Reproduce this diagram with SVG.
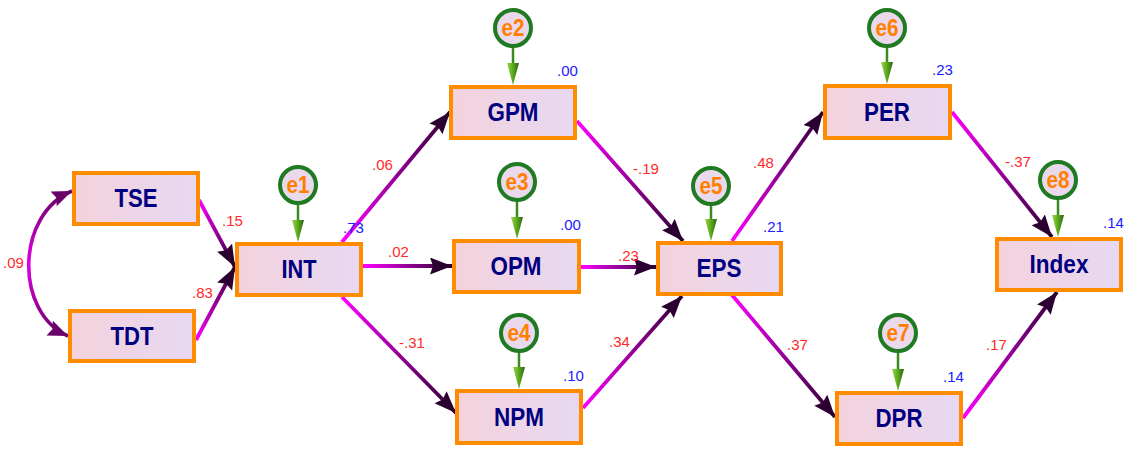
<svg xmlns="http://www.w3.org/2000/svg" width="1126" height="455" viewBox="0 0 1126 455">
<defs>
<style>
.box{fill:url(#boxFill);stroke:#ff8c00;stroke-width:4}
.lbl{font-family:"Liberation Sans",Arial,sans-serif;font-weight:bold;font-size:25px;fill:#000080;text-anchor:middle}
.err{fill:#ead8ec;stroke:#1f7a22;stroke-width:4}
.elbl{font-family:"Liberation Sans",Arial,sans-serif;font-weight:bold;font-size:23px;fill:#ff8000;text-anchor:middle}
.coef{font-family:"Liberation Sans",Arial,sans-serif;font-size:15px;fill:#ff2a2a}
.r2{font-family:"Liberation Sans",Arial,sans-serif;font-size:15px;fill:#2020ff}
.path{fill:none;stroke-width:3.8;marker-end:url(#arr)}
.eline{stroke:#3a8a1c;stroke-width:2.5}
.ehead{fill:url(#greenHead)}
</style>
<linearGradient id="boxFill" x1="0" y1="0" x2="1" y2="0">
<stop offset="0" stop-color="#f4d2dc"/>
<stop offset="1" stop-color="#e7d8f2"/>
</linearGradient>
<linearGradient id="greenHead" x1="0" y1="0" x2="1" y2="0">
<stop offset="0" stop-color="#9ad84a"/>
<stop offset="0.5" stop-color="#5aa81e"/>
<stop offset="1" stop-color="#2a640c"/>
</linearGradient>
<linearGradient id="arcG" gradientUnits="userSpaceOnUse" x1="0" y1="191" x2="0" y2="336">
<stop offset="0" stop-color="#6a006a"/>
<stop offset="0.5" stop-color="#e000e0"/>
<stop offset="1" stop-color="#6a006a"/>
</linearGradient>
<linearGradient id="g1" gradientUnits="userSpaceOnUse" x1="199" y1="200" x2="235" y2="267"><stop offset="0" stop-color="#ff00ff"/><stop offset="1" stop-color="#2a0030"/></linearGradient>
<linearGradient id="g2" gradientUnits="userSpaceOnUse" x1="196" y1="340" x2="235" y2="267"><stop offset="0" stop-color="#ff00ff"/><stop offset="1" stop-color="#2a0030"/></linearGradient>
<linearGradient id="g3" gradientUnits="userSpaceOnUse" x1="342" y1="242" x2="450" y2="112"><stop offset="0" stop-color="#ff00ff"/><stop offset="1" stop-color="#2a0030"/></linearGradient>
<linearGradient id="g4" gradientUnits="userSpaceOnUse" x1="363" y1="266" x2="452" y2="266"><stop offset="0" stop-color="#ff00ff"/><stop offset="1" stop-color="#2a0030"/></linearGradient>
<linearGradient id="g5" gradientUnits="userSpaceOnUse" x1="342" y1="297" x2="456" y2="413"><stop offset="0" stop-color="#ff00ff"/><stop offset="1" stop-color="#2a0030"/></linearGradient>
<linearGradient id="g6" gradientUnits="userSpaceOnUse" x1="577" y1="121" x2="683" y2="241"><stop offset="0" stop-color="#ff00ff"/><stop offset="1" stop-color="#2a0030"/></linearGradient>
<linearGradient id="g7" gradientUnits="userSpaceOnUse" x1="581" y1="267" x2="656" y2="267"><stop offset="0" stop-color="#ff00ff"/><stop offset="1" stop-color="#2a0030"/></linearGradient>
<linearGradient id="g8" gradientUnits="userSpaceOnUse" x1="583" y1="408" x2="682" y2="296"><stop offset="0" stop-color="#ff00ff"/><stop offset="1" stop-color="#2a0030"/></linearGradient>
<linearGradient id="g9" gradientUnits="userSpaceOnUse" x1="732" y1="241" x2="823" y2="112"><stop offset="0" stop-color="#ff00ff"/><stop offset="1" stop-color="#2a0030"/></linearGradient>
<linearGradient id="g10" gradientUnits="userSpaceOnUse" x1="732" y1="295" x2="835" y2="417"><stop offset="0" stop-color="#ff00ff"/><stop offset="1" stop-color="#2a0030"/></linearGradient>
<linearGradient id="g11" gradientUnits="userSpaceOnUse" x1="952" y1="112" x2="1052" y2="237"><stop offset="0" stop-color="#ff00ff"/><stop offset="1" stop-color="#2a0030"/></linearGradient>
<linearGradient id="g12" gradientUnits="userSpaceOnUse" x1="963" y1="418" x2="1057" y2="292"><stop offset="0" stop-color="#ff00ff"/><stop offset="1" stop-color="#2a0030"/></linearGradient>
<marker id="arr" markerUnits="userSpaceOnUse" markerWidth="24" markerHeight="18" refX="22" refY="8.5" orient="auto">
<path d="M0,0 L22,8.5 L0,17 L3,8.5 Z" fill="#2a0030"/>
</marker>
<marker id="arrC" markerUnits="userSpaceOnUse" markerWidth="24" markerHeight="18" refX="20" refY="8" orient="auto-start-reverse">
<path d="M0,0 L20,8 L0,16 L3,8 Z" fill="#6a006a"/>
</marker>
</defs>

<g id="connectors">
<path d="M72,191 C15,215 15,313 68,336" fill="none" stroke="url(#arcG)" stroke-width="3.6" marker-start="url(#arrC)" marker-end="url(#arrC)"/>
<line class="path" x1="199" y1="200" x2="235" y2="267" stroke="url(#g1)"/>
<line class="path" x1="196" y1="340" x2="235" y2="267" stroke="url(#g2)"/>
<line class="path" x1="342" y1="242" x2="450" y2="112" stroke="url(#g3)"/>
<line class="path" x1="363" y1="266" x2="452" y2="266" stroke="url(#g4)"/>
<line class="path" x1="342" y1="297" x2="456" y2="413" stroke="url(#g5)"/>
<line class="path" x1="577" y1="121" x2="683" y2="241" stroke="url(#g6)"/>
<line class="path" x1="581" y1="267" x2="656" y2="267" stroke="url(#g7)"/>
<line class="path" x1="583" y1="408" x2="682" y2="296" stroke="url(#g8)"/>
<line class="path" x1="732" y1="241" x2="823" y2="112" stroke="url(#g9)"/>
<line class="path" x1="732" y1="295" x2="835" y2="417" stroke="url(#g10)"/>
<line class="path" x1="952" y1="112" x2="1052" y2="237" stroke="url(#g11)"/>
<line class="path" x1="963" y1="418" x2="1057" y2="292" stroke="url(#g12)"/>

<line class="eline" x1="298" y1="203" x2="298" y2="222"/><polygon class="ehead" points="292,220 304,220 298,242"/>
<line class="eline" x1="513" y1="46" x2="513" y2="65"/><polygon class="ehead" points="507,63 519,63 513,85"/>
<line class="eline" x1="517" y1="200" x2="517" y2="219"/><polygon class="ehead" points="511,217 523,217 517,239"/>
<line class="eline" x1="519" y1="351" x2="519" y2="369"/><polygon class="ehead" points="513,367 525,367 519,389"/>
<line class="eline" x1="711" y1="204" x2="711" y2="221"/><polygon class="ehead" points="705,219 717,219 711,241"/>
<line class="eline" x1="887" y1="46" x2="887" y2="64"/><polygon class="ehead" points="881,62 893,62 887,84"/>
<line class="eline" x1="898" y1="351" x2="898" y2="371"/><polygon class="ehead" points="892,369 904,369 898,391"/>
<line class="eline" x1="1058" y1="198" x2="1058" y2="217"/><polygon class="ehead" points="1052,215 1064,215 1058,237"/>

<text class="coef" x="3" y="268">.09</text>
<text class="coef" x="222" y="226">.15</text>
<text class="coef" x="192" y="298">.83</text>
<text class="coef" x="372" y="170">.06</text>
<text class="coef" x="388" y="257">.02</text>
<text class="coef" x="399" y="348">-.31</text>
<text class="coef" x="633" y="174">-.19</text>
<text class="coef" x="618" y="261">.23</text>
<text class="coef" x="609" y="347">.34</text>
<text class="coef" x="753" y="168">.48</text>
<text class="coef" x="787" y="350">.37</text>
<text class="coef" x="1005" y="167">-.37</text>
<text class="coef" x="986" y="350">.17</text>
</g>

<g id="TSE"><rect class="box" x="74" y="173" width="124" height="51"/><text class="lbl" x="136" y="207" textLength="43" lengthAdjust="spacingAndGlyphs">TSE</text></g>
<g id="TDT"><rect class="box" x="70" y="311" width="124" height="50"/><text class="lbl" x="132" y="345" textLength="43" lengthAdjust="spacingAndGlyphs">TDT</text></g>
<g id="INT"><rect class="box" x="237" y="244" width="124" height="51"/><text class="lbl" x="299" y="278" textLength="35" lengthAdjust="spacingAndGlyphs">INT</text><text class="r2" x="343" y="233">.73</text></g>
<g id="GPM"><rect class="box" x="451" y="87" width="124" height="51"/><text class="lbl" x="513" y="121" textLength="51" lengthAdjust="spacingAndGlyphs">GPM</text><text class="r2" x="557" y="76">.00</text></g>
<g id="OPM"><rect class="box" x="454" y="241" width="125" height="51"/><text class="lbl" x="516" y="275" textLength="51" lengthAdjust="spacingAndGlyphs">OPM</text><text class="r2" x="560" y="230">.00</text></g>
<g id="NPM"><rect class="box" x="457" y="391" width="124" height="52"/><text class="lbl" x="519" y="426" textLength="50" lengthAdjust="spacingAndGlyphs">NPM</text><text class="r2" x="563" y="381">.10</text></g>
<g id="EPS"><rect class="box" x="658" y="243" width="123" height="51"/><text class="lbl" x="719" y="277" textLength="45" lengthAdjust="spacingAndGlyphs">EPS</text><text class="r2" x="763" y="232">.21</text></g>
<g id="PER"><rect class="box" x="825" y="86" width="125" height="52"/><text class="lbl" x="887" y="121" textLength="46" lengthAdjust="spacingAndGlyphs">PER</text><text class="r2" x="932" y="75">.23</text></g>
<g id="DPR"><rect class="box" x="837" y="393" width="124" height="51"/><text class="lbl" x="899" y="427" textLength="47" lengthAdjust="spacingAndGlyphs">DPR</text><text class="r2" x="943" y="382">.14</text></g>
<g id="Index"><rect class="box" x="997" y="239" width="124" height="51"/><text class="lbl" x="1059" y="273" textLength="59" lengthAdjust="spacingAndGlyphs">Index</text><text class="r2" x="1103" y="228">.14</text></g>

<g id="e1"><circle class="err" cx="298" cy="185" r="18"/><text class="elbl" x="298" y="193" textLength="23" lengthAdjust="spacingAndGlyphs">e1</text></g>
<g id="e2"><circle class="err" cx="513" cy="28" r="18"/><text class="elbl" x="513" y="36" textLength="23" lengthAdjust="spacingAndGlyphs">e2</text></g>
<g id="e3"><circle class="err" cx="517" cy="182" r="18"/><text class="elbl" x="517" y="190" textLength="23" lengthAdjust="spacingAndGlyphs">e3</text></g>
<g id="e4"><circle class="err" cx="519" cy="333" r="18"/><text class="elbl" x="519" y="341" textLength="23" lengthAdjust="spacingAndGlyphs">e4</text></g>
<g id="e5"><circle class="err" cx="711" cy="186" r="18"/><text class="elbl" x="711" y="194" textLength="23" lengthAdjust="spacingAndGlyphs">e5</text></g>
<g id="e6"><circle class="err" cx="887" cy="28" r="18"/><text class="elbl" x="887" y="36" textLength="23" lengthAdjust="spacingAndGlyphs">e6</text></g>
<g id="e7"><circle class="err" cx="898" cy="333" r="18"/><text class="elbl" x="898" y="341" textLength="23" lengthAdjust="spacingAndGlyphs">e7</text></g>
<g id="e8"><circle class="err" cx="1058" cy="180" r="18"/><text class="elbl" x="1058" y="188" textLength="23" lengthAdjust="spacingAndGlyphs">e8</text></g>
</svg>
